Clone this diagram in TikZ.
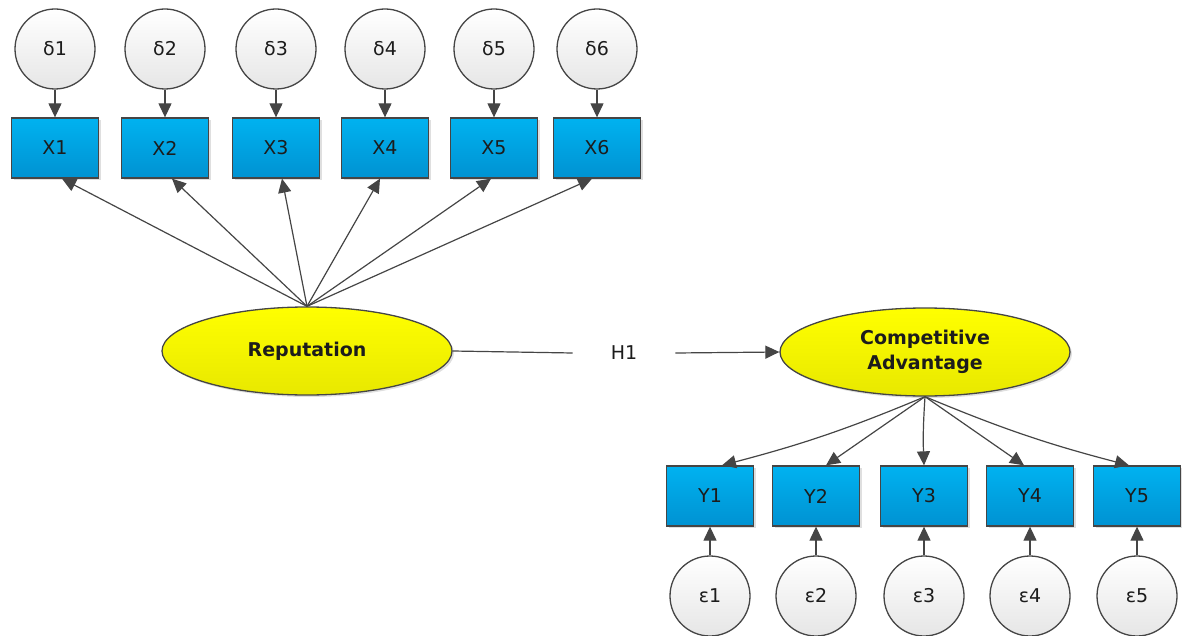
\documentclass[tikz,border=0pt]{standalone}
\usepackage{fontspec}
\setmainfont{DejaVu Sans}
\usetikzlibrary{arrows.meta,shadows,calc,shapes.geometric}
\definecolor{boxtop}{HTML}{00B2F0}
\definecolor{boxbot}{HTML}{0092D2}
\definecolor{edgec}{HTML}{454545}
\definecolor{errbot}{HTML}{E6E6E6}
\definecolor{lattop}{HTML}{FFFF00}
\definecolor{latbot}{HTML}{E8E800}
\definecolor{txt}{HTML}{1C1C1C}
\begin{document}
\begin{tikzpicture}[x=1pt,y=-1pt,
  ind/.style={rectangle, draw=edgec, line width=1.3pt, top color=boxtop, bottom color=boxbot,
    minimum width=87pt, minimum height=60pt, inner sep=0pt, text=txt,
    font=\fontsize{19}{22}\selectfont,
    drop shadow={opacity=0.25, shadow xshift=2pt, shadow yshift=-2pt}},
  err/.style={circle, draw=edgec, line width=1.3pt, top color=white, bottom color=errbot,
    minimum size=80pt, inner sep=0pt, text=txt, font=\fontsize{19}{22}\selectfont},
  lat/.style={ellipse, draw=edgec, line width=1.3pt, top color=lattop, bottom color=latbot,
    minimum width=290pt, minimum height=88pt, inner sep=0pt, text=txt, align=center,
    font=\bfseries\fontsize{19}{25}\selectfont,
    drop shadow={opacity=0.25, shadow xshift=2pt, shadow yshift=-2pt}},
  arr/.style={draw=edgec, line width=1.2pt, -{Triangle[length=14pt,width=13pt]}},
  ln/.style={draw=edgec, line width=1.2pt}
]
\useasboundingbox (0,0) rectangle (1182,636);

% X indicators and delta errors
\foreach \i/\x in {1/55,2/165,3/276,4/385,5/494,6/597}{
  \node[ind] (X\i) at (\x,148) {X\i};
  \node[err] (d\i) at (\x,49) {δ\i};
  \draw[arr] (d\i.south) -- (X\i.north);
}

% Y indicators and epsilon errors
\foreach \i/\x in {1/710,2/816,3/924,4/1030,5/1137}{
  \node[ind] (Y\i) at (\x,496) {Y\i};
  \node[err] (e\i) at (\x,596) {ε\i};
  \draw[arr] (e\i.north) -- (Y\i.south);
}

% latent variables
\node[lat] (rep) at (307,351) {Reputation};
\node[lat] (ca) at (925,352) {Competitive\\Advantage};

% H1 label
\node[text=txt, font=\fontsize{19}{22}\selectfont, inner xsep=38pt, inner ysep=2pt] (h1) at (624,353) {H1};
\draw[ln] (rep.east) -- (h1.west);
\draw[arr] (h1.east) -- (ca.west);

% loadings of Reputation
\draw[arr] (rep.north) -- ($(X1.south)+(7,0)$);
\draw[arr] (rep.north) -- ($(X2.south)+(7,0)$);
\draw[arr] (rep.north) -- ($(X3.south)+(6,0)$);
\draw[arr] (rep.north) -- ($(X4.south)+(-5,0)$);
\draw[arr] (rep.north) -- ($(X5.south)+(-3,0)$);
\draw[arr] (rep.north) -- ($(X6.south)+(-5,0)$);

% loadings of Competitive Advantage
\draw[arr] (ca.south) to[bend left=4] ($(Y1.north)+(12,0)$);
\draw[arr] (ca.south) -- ($(Y2.north)+(10,0)$);
\draw[arr] (ca.south) to[bend right=3] (Y3.north);
\draw[arr] (ca.south) -- ($(Y4.north)+(-6,0)$);
\draw[arr] (ca.south) to[bend right=4] ($(Y5.north)+(-8,0)$);
\end{tikzpicture}
\end{document}
